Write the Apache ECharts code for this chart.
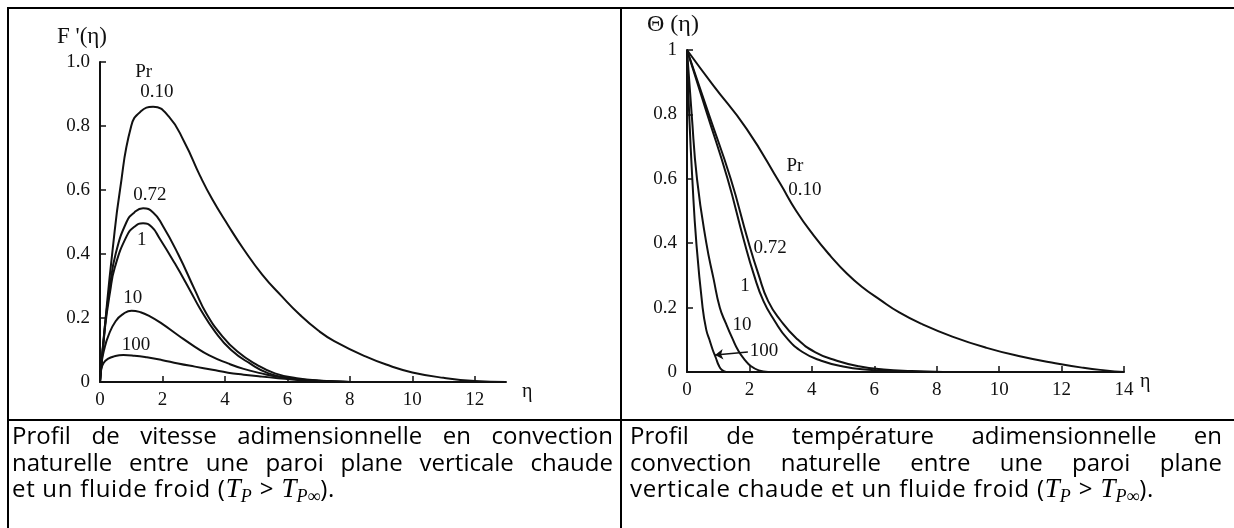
<!DOCTYPE html>
<html>
<head>
<meta charset="utf-8">
<title>Convection naturelle - profils adimensionnels</title>
<script src="https://cdn.jsdelivr.net/npm/echarts@6/dist/echarts.min.js"></script>
<style>
  body { margin: 0; background: #fff; overflow: hidden; }
  #main { position: absolute; left: 0; top: 0; width: 1234px; height: 528px; }
  .bord { position: absolute; background: #000; }
  .cap { position: absolute; font-family: 'Open Sans', sans-serif; font-size: 24px;
         line-height: 26.5px; color: #000; white-space: nowrap; }
  .cap .j { text-align: justify; text-align-last: justify; }
  .cap .last { letter-spacing: 0.7px; }
  .cap i.m { font-family: 'Liberation Serif', serif; font-size: 27px; letter-spacing: 0; }
  .cap sub { font-family: 'Liberation Serif', serif; font-size: 18px; line-height: 0; vertical-align: -5px; letter-spacing: 0; }
  .cap .rel { display: inline-block; margin: 0 8px; letter-spacing: 0; }
</style>
</head>
<body>
<div id="main"></div>
<!-- cadre du tableau -->
<div class="bord" style="left:7px; top:7px; width:1240px; height:2px"></div>
<div class="bord" style="left:7px; top:7px; width:2px; height:530px"></div>
<div class="bord" style="left:620px; top:7px; width:2px; height:530px"></div>
<div class="bord" style="left:7px; top:419px; width:1240px; height:2px"></div>
<div class="cap" style="left:12px; top:422px; width:601px">
  <div class="j">Profil de vitesse adimensionnelle en convection</div>
  <div class="j">naturelle entre une paroi plane verticale chaude</div>
  <div class="last">et un fluide froid (<i class="m">T</i><sub><i>P</i></sub><span class="rel">&gt;</span><i class="m">T</i><sub><i>P</i>∞</sub>).</div>
</div>
<div class="cap" style="left:630px; top:422px; width:592px">
  <div class="j">Profil de température adimensionnelle en</div>
  <div class="j">convection naturelle entre une paroi plane</div>
  <div class="last">verticale chaude et un fluide froid (<i class="m">T</i><sub><i>P</i></sub><span class="rel">&gt;</span><i class="m">T</i><sub><i>P</i>∞</sub>).</div>
</div>
<script>
// ---- profil de vitesse F'(eta) ----
var vEta010 = [0, 0.2, 0.4, 0.64, 1.0, 1.3, 1.7, 2.2, 2.7, 3.2, 3.6, 4.1, 4.6, 5.2, 5.8, 6.4, 7.0, 7.5, 8.5, 9.3, 10.0, 11.0, 12.0, 13.0];
var vVal010 = [0, 0.22, 0.41, 0.6, 0.8, 0.845, 0.86, 0.83, 0.75, 0.645, 0.57, 0.49, 0.415, 0.335, 0.27, 0.21, 0.16, 0.128, 0.08, 0.05, 0.03, 0.013, 0.003, 0];
var vEta072 = [0, 0.15, 0.32, 0.5, 0.85, 1.1, 1.38, 1.7, 2.0, 2.5, 3.04, 3.4, 3.9, 4.4, 5.0, 5.6, 6.3, 7.1, 8.0];
var vVal072 = [0, 0.17, 0.3, 0.4, 0.5, 0.53, 0.543, 0.53, 0.49, 0.4, 0.287, 0.215, 0.145, 0.095, 0.055, 0.027, 0.012, 0.004, 0];
var vEta1 = [0, 0.16, 0.32, 0.48, 0.85, 1.1, 1.38, 1.65, 1.9, 2.4, 2.88, 3.2, 3.7, 4.2, 4.8, 5.4, 6.1, 7.0, 8.0];
var vVal1 = [0, 0.17, 0.28, 0.36, 0.455, 0.485, 0.496, 0.485, 0.45, 0.37, 0.287, 0.23, 0.155, 0.1, 0.058, 0.027, 0.012, 0.004, 0];
var vEta10 = [0, 0.05, 0.13, 0.27, 0.5, 0.75, 1.01, 1.3, 1.6, 1.97, 2.5, 3.04, 3.5, 4.1, 4.6, 5.17, 5.7, 6.23, 7.0, 8.0];
var vVal10 = [0, 0.06, 0.1, 0.145, 0.19, 0.213, 0.223, 0.218, 0.205, 0.183, 0.146, 0.11, 0.083, 0.058, 0.041, 0.027, 0.016, 0.009, 0.003, 0];
var vEta100 = [0, 0.04, 0.12, 0.25, 0.45, 0.75, 1.1, 1.5, 1.97, 2.5, 3.04, 3.6, 4.1, 4.6, 5.17, 5.7, 6.23, 7.0, 8.0];
var vVal100 = [0, 0.04, 0.06, 0.072, 0.08, 0.084, 0.082, 0.077, 0.069, 0.058, 0.048, 0.038, 0.029, 0.023, 0.017, 0.012, 0.007, 0.003, 0];

// ---- profil de temperature Theta(eta) ----
var tEta010 = [0, 0.84, 1.91, 2.98, 3.5, 4.05, 4.6, 5.12, 5.6, 6.19, 6.8, 7.5, 8.5, 9.6, 10.7, 11.8, 12.7, 13.4, 14];
var tVal010 = [1, 0.89, 0.755, 0.586, 0.5, 0.425, 0.36, 0.306, 0.265, 0.224, 0.185, 0.15, 0.11, 0.075, 0.048, 0.027, 0.013, 0.005, 0];
var tEta072 = [0, 0.7, 1.4, 1.95, 2.3, 2.6, 3.0, 3.5, 4.1, 4.8, 5.5, 6.3, 7.2, 8.2];
var tVal072 = [1, 0.8, 0.6, 0.41, 0.3, 0.22, 0.16, 0.105, 0.062, 0.035, 0.018, 0.008, 0.003, 0];
var tEta1 = [0, 0.65, 1.3, 1.82, 2.15, 2.45, 2.8, 3.2, 3.7, 4.3, 5.0, 5.8, 6.7, 7.6];
var tVal1 = [1, 0.8, 0.6, 0.41, 0.3, 0.22, 0.16, 0.105, 0.062, 0.035, 0.017, 0.007, 0.002, 0];
var tEta10 = [0, 0.15, 0.32, 0.62, 0.85, 1.05, 1.25, 1.45, 1.65, 1.85, 2.05, 2.3, 2.6];
var tVal10 = [1, 0.8, 0.6, 0.4, 0.29, 0.2, 0.15, 0.105, 0.065, 0.038, 0.018, 0.005, 0];
var tEta100 = [0, 0.07, 0.17, 0.3, 0.5, 0.62, 0.72, 0.82, 0.92, 1.02, 1.12, 1.25];
var tVal100 = [1, 0.8, 0.6, 0.4, 0.2, 0.13, 0.1, 0.07, 0.045, 0.02, 0.006, 0];

var xTicksV = [0, 2, 4, 6, 8, 10, 12];
var xTicksT = [0, 2, 4, 6, 8, 10, 12, 14];

var SERIF = 'Liberation Serif';
var INK = '#111';

function zip(xs, ys) {
    return xs.map(function (x, i) { return [x, ys[i]]; });
}

// texte posé en coordonnées de données (étiquettes des courbes)
function tag(text, eta, val) {
    return { coord: [eta, val], value: text };
}

function curve(name, idx, xs, ys, tags, extra) {
    var s = {
        name: name,
        type: 'line',
        xAxisIndex: idx,
        yAxisIndex: idx,
        data: zip(xs, ys),
        showSymbol: false,
        smooth: 0.5,
        lineStyle: { color: INK, width: 2 },
        silent: true,
        markPoint: {
            symbol: 'circle',
            symbolSize: 1,
            itemStyle: { color: 'rgba(0,0,0,0)' },
            label: {
                show: true, position: 'inside', color: INK,
                fontFamily: SERIF, fontSize: 19,
                formatter: function (p) { return p.value; }
            },
            data: tags
        }
    };
    if (extra) Object.assign(s, extra);
    return s;
}

function xAxis(idx, max, ticks) {
    return {
        gridIndex: idx, type: 'value', min: 0, max: max, interval: 2,
        axisLine: { lineStyle: { color: INK, width: 2 } },
        axisTick: { inside: true, length: 6, customValues: ticks, lineStyle: { color: INK, width: 1.5 } },
        axisLabel: { customValues: ticks, color: INK, fontFamily: SERIF, fontSize: 19, margin: 9 },
        splitLine: { show: false },
        name: 'η', nameLocation: 'end', nameGap: 16,
        nameTextStyle: { color: INK, fontFamily: SERIF, fontSize: 20, verticalAlign: 'top' }
    };
}

function yAxis(idx, fmt) {
    return {
        gridIndex: idx, type: 'value', min: 0, max: 1, interval: 0.2,
        axisLine: { show: true, lineStyle: { color: INK, width: 2 } },
        axisTick: { show: true, inside: true, length: 6, lineStyle: { color: INK, width: 1.5 } },
        axisLabel: { color: INK, fontFamily: SERIF, fontSize: 19, margin: 10, formatter: fmt },
        splitLine: { show: false }
    };
}

var chart = echarts.init(document.getElementById('main'));

chart.setOption({
    animation: false,
    backgroundColor: '#fff',
    grid: [
        { left: 100, top: 62, width: 406, height: 320 },
        { left: 687, top: 50, width: 437, height: 322 }
    ],
    xAxis: [xAxis(0, 13, xTicksV), xAxis(1, 14, xTicksT)],
    yAxis: [
        yAxis(0, function (v) { return v === 0 ? '0' : v.toFixed(1); }),
        yAxis(1, function (v) { return v === 0 ? '0' : (v === 1 ? '1' : v.toFixed(1)); })
    ],
    graphic: [
        { type: 'text', left: 57, top: 25, style: { text: "F '(η)", font: '23px "Liberation Serif"', fill: INK } },
        { type: 'text', left: 647, top: 13, style: { text: 'Θ (η)', font: '24px "Liberation Serif"', fill: INK } }
    ],
    series: [
        curve('F 0.10', 0, vEta010, vVal010, [tag('Pr', 1.4, 0.97), tag('0.10', 1.82, 0.906)]),
        curve('F 0.72', 0, vEta072, vVal072, [tag('0.72', 1.6, 0.585)]),
        curve('F 1', 0, vEta1, vVal1, [tag('1', 1.34, 0.444)]),
        curve('F 10', 0, vEta10, vVal10, [tag('10', 1.05, 0.262)]),
        curve('F 100', 0, vEta100, vVal100, [tag('100', 1.15, 0.116)]),

        curve('T 0.10', 1, tEta010, tVal010, [tag('Pr', 3.46, 0.64), tag('0.10', 3.78, 0.565)]),
        curve('T 0.72', 1, tEta072, tVal072, [tag('0.72', 2.66, 0.385)]),
        curve('T 1', 1, tEta1, tVal1, [tag('1', 1.86, 0.267)]),
        curve('T 10', 1, tEta10, tVal10, [tag('10', 1.76, 0.146)]),
        curve('T 100', 1, tEta100, tVal100, [tag('100', 2.47, 0.065)], {
            markLine: {
                silent: true,
                symbol: ['none', 'arrow'],
                symbolSize: 8,
                lineStyle: { color: INK, width: 1.5, type: 'solid' },
                label: { show: false },
                data: [[{ coord: [1.95, 0.062] }, { coord: [0.9, 0.053] }]]
            }
        })
    ]
});
</script>
</body>
</html>
